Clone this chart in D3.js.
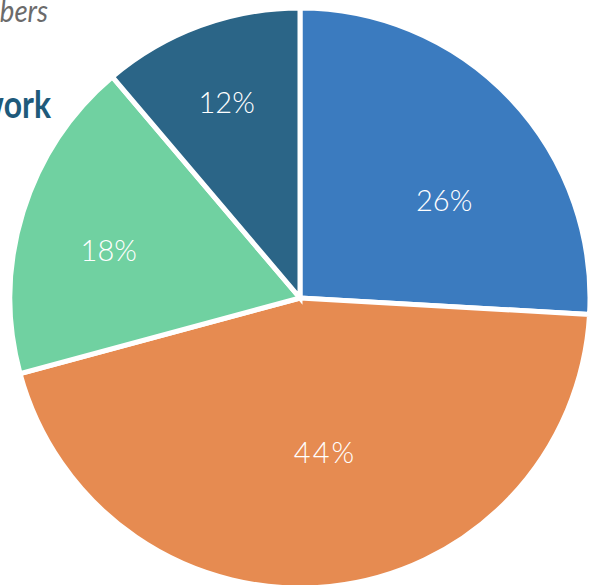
<!DOCTYPE html>
<html>
<head>
<meta charset="utf-8">
<script src="https://cdn.jsdelivr.net/npm/d3@7"></script>
<style>
  html, body { margin: 0; padding: 0; background: #ffffff; overflow: hidden; }
  svg { display: block; }
</style>
</head>
<body>
<svg id="chart" width="590" height="585"></svg>
<script>
// ---- data ----
const categories = ["A", "B", "C", "D"];
const values = [25.9, 44.9, 18.0, 11.2];
const labels = ["26%", "44%", "18%", "12%"];
const colors = ["#3b7bbf", "#e68b51", "#70d1a1", "#2b6587"];
const titleText = "Network";
const subtitleText = "Members";

// ---- layout ----
const W = 590, H = 585;
const cx = 300, cy = 298, R = 290;
// label placement within each slice: fraction along the slice, fraction of radius
const labelPlace = [
  { t: 0.60, r: 0.60 },
  { t: 0.48, r: 0.54 },
  { t: 0.45, r: 0.68 },
  { t: 0.49, r: 0.72 }
];

const svg = d3.select("#chart");

// titles (clipped at the left edge, as in the reference)
svg.append("text")
  .attr("transform", "translate(48,22) scale(0.92,1)")
  .attr("text-anchor", "end")
  .style("font-family", "Lato, 'Open Sans', sans-serif")
  .style("font-style", "italic")
  .style("font-size", "30px")
  .style("fill", "#6b6b6b")
  .text(subtitleText);

svg.append("text")
  .attr("transform", "translate(51,118) scale(0.84,1)")
  .attr("text-anchor", "end")
  .style("font-family", "Lato, 'Open Sans', sans-serif")
  .style("font-weight", "700")
  .style("font-size", "38px")
  .style("fill", "#1e5a7b")
  .text(titleText);

const pie = d3.pie().sort(null).value(d => d)(values);
const arc = d3.arc().innerRadius(0).outerRadius(R);

const g = svg.append("g").attr("transform", `translate(${cx},${cy})`);

g.selectAll("path.slice")
  .data(pie)
  .join("path")
  .attr("class", "slice")
  .attr("d", arc)
  .attr("fill", (d, i) => colors[i])
  .attr("stroke", "#ffffff")
  .attr("stroke-width", 5)
  .attr("stroke-linejoin", "miter");

g.selectAll("text.lbl")
  .data(pie)
  .join("text")
  .attr("class", "lbl")
  .attr("transform", (d, i) => {
    const p = labelPlace[i];
    const a = d.startAngle + (d.endAngle - d.startAngle) * p.t;
    const r = R * p.r;
    return `translate(${r * Math.sin(a)},${-r * Math.cos(a)})`;
  })
  .attr("text-anchor", "middle")
  .attr("dy", "0.36em")
  .style("font-family", "Lato, 'Open Sans', sans-serif")
  .style("font-weight", "300")
  .style("font-size", "29px")
  .style("letter-spacing", (d, i) => i === 1 ? "2px" : "0px")
  .style("fill", "#ffffff")
  .text((d, i) => labels[i]);
</script>
</body>
</html>
